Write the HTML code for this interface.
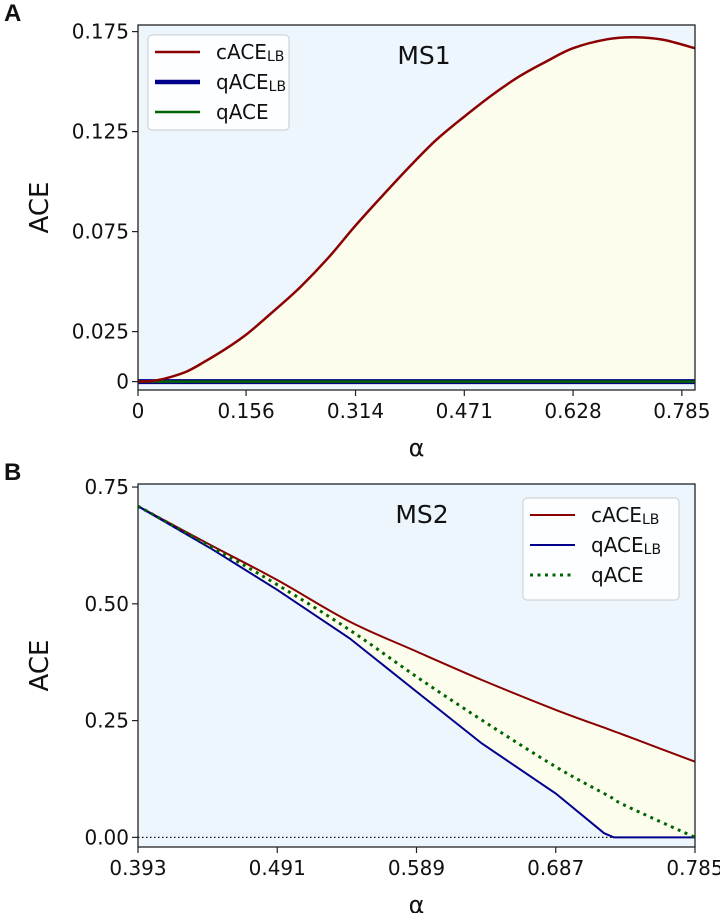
<!DOCTYPE html>
<html><head><meta charset="utf-8"><style>
html,body{margin:0;padding:0;background:#fff}
svg{display:block;font-family:"DejaVu Sans","Liberation Sans",sans-serif}
</style></head><body>
<svg id="chart" width="720" height="913" viewBox="0 0 720 913"></svg>
<script>
// Panel A data
const alphaA = [0, 0.020, 0.041, 0.070, 0.094, 0.125, 0.158, 0.195, 0.235, 0.275, 0.314, 0.353, 0.392, 0.431, 0.471, 0.510, 0.550, 0.589, 0.628, 0.678, 0.716, 0.757, 0.804];
const cAceA = [0, 0.0003, 0.0017, 0.005, 0.0095, 0.016, 0.024, 0.035, 0.0475, 0.062, 0.078, 0.093, 0.1075, 0.121, 0.1325, 0.143, 0.1525, 0.160, 0.1667, 0.1712, 0.1722, 0.171, 0.1667];
const qAceLbA = [0, 0];
const qAceA = [0, 0];
const qAlphaA = [0, 0.804];
const xTicksA = [0, 0.156, 0.314, 0.471, 0.628, 0.785];
const xTickLabelsA = ["0", "0.156", "0.314", "0.471", "0.628", "0.785"];
const yTicksA = [0, 0.025, 0.075, 0.125, 0.175];
const yTickLabelsA = ["0", "0.025", "0.075", "0.125", "0.175"];
// Panel B data
const alphaB = [0.393, 0.444, 0.491, 0.542, 0.589, 0.635, 0.687, 0.721, 0.728, 0.736, 0.785];
const cAceB = [0.709, 0.626, 0.551, 0.462, 0.398, 0.337, 0.273, 0.235, 0.227, 0.218, 0.162];
const qAceLbB = [0.709, 0.619, 0.530, 0.426, 0.312, 0.201, 0.094, 0.009, 0, 0, 0];
const qAceB = [0.709, 0.623, 0.541, 0.444, 0.344, 0.251, 0.151, 0.094, 0.082, 0.068, 0];
const xTicksB = [0.393, 0.491, 0.589, 0.687, 0.785];
const xTickLabelsB = ["0.393", "0.491", "0.589", "0.687", "0.785"];
const yTicksB = [0, 0.25, 0.5, 0.75];
const yTickLabelsB = ["0.00", "0.25", "0.50", "0.75"];

const NS = "http://www.w3.org/2000/svg";
const svg = document.getElementById("chart");
function mk(tag, attrs, parent, text) {
  const e = document.createElementNS(NS, tag);
  for (const k in attrs) e.setAttribute(k, attrs[k]);
  if (text !== undefined) e.textContent = text;
  (parent || svg).appendChild(e);
  return e;
}
const RED = "#8b0000", BLUE = "#00008b", GREEN = "#006400";

function panel(cfg) {
  const g = mk("g", {});
  
  
  const X = v => cfg.x0 + (v - cfg.xmin) / (cfg.xmax - cfg.xmin) * (cfg.x1 - cfg.x0);
  const Y = v => cfg.y0 - (v - cfg.ymin) / (cfg.ymax - cfg.ymin) * (cfg.y0 - cfg.y1);
  const bg = mk("rect", {x: cfg.x0, y: cfg.y1, width: cfg.x1 - cfg.x0, height: cfg.y0 - cfg.y1, fill: "#edf5fd"}, g);
  
  
  return {g, X, Y};
}
function P(xs, ys, X, Y) { return xs.map((x, i) => [X(x), Y(ys[i])]); }
// smooth Catmull-Rom path through points
function smooth(p, start) {
  let d = (start ? "M" : "L") + p[0][0].toFixed(1) + "," + p[0][1].toFixed(1);
  for (let i = 0; i < p.length - 1; i++) {
    const p0 = p[Math.max(0, i - 1)], p1 = p[i], p2 = p[i + 1], p3 = p[Math.min(p.length - 1, i + 2)];
    const c1 = [p1[0] + (p2[0] - p0[0]) / 6, p1[1] + (p2[1] - p0[1]) / 6];
    const c2 = [p2[0] - (p3[0] - p1[0]) / 6, p2[1] - (p3[1] - p1[1]) / 6];
    d += "C" + c1.map(v => v.toFixed(1)).join(",") + " " + c2.map(v => v.toFixed(1)).join(",") + " " + p2[0].toFixed(1) + "," + p2[1].toFixed(1);
  }
  return d;
}
function lin(p, start) { return p.map((q, i) => (i === 0 && start ? "M" : "L") + q[0].toFixed(1) + "," + q[1].toFixed(1)).join(""); }

function axes(p, cfg, xt, xl, yt, yl) {
  const {g, X, Y} = p;
  const fr = mk("rect", {x: cfg.x0, y: cfg.y1, width: cfg.x1 - cfg.x0, height: cfg.y0 - cfg.y1, fill: "none", stroke: "#222", "stroke-width": 1.3}, g);
  
  
  xt.forEach((v, i) => {
    mk("line", {x1: X(v), x2: X(v), y1: cfg.y0, y2: cfg.y0 + 6, stroke: "#222", "stroke-width": 1.2}, g);
    const t = mk("text", {x: X(v), y: cfg.y0 + 28, "text-anchor": "middle", "font-size": 20, fill: "#111"}, g, xl[i]);
    
    
  });
  yt.forEach((v, i) => {
    mk("line", {x1: cfg.x0 - 6, x2: cfg.x0, y1: Y(v), y2: Y(v), stroke: "#222", "stroke-width": 1.2}, g);
    const t = mk("text", {x: cfg.x0 - 9, y: Y(v) + 7, "text-anchor": "end", "font-size": 20, fill: "#111"}, g, yl[i]);
    
    
  });
  const xa = mk("text", {x: (cfg.x0 + cfg.x1) / 2, y: cfg.y0 + 66, "text-anchor": "middle", "font-size": 24, fill: "#111"}, g, "α");
  
  
  const cy = (cfg.y0 + cfg.y1) / 2;
  const ya = mk("text", {x: 48, y: cy, "text-anchor": "middle", "font-size": 26, fill: "#111", transform: "rotate(-90 48 " + cy + ")"}, g, "ACE");
  
  
  const pl = mk("text", {x: 4, y: cfg.y1 - 4, "font-size": 24, "font-weight": "bold", fill: "#111", "font-family": "Liberation Sans, sans-serif"}, g, cfg.label);
  
  
  const tt = mk("text", {x: cfg.titleX, y: cfg.y1 + 39, "text-anchor": "middle", "font-size": 25, fill: "#111"}, g, cfg.title);
  
  
}
function legend(g, bx, by, bw, bh, rows, styles) {
  const lg = mk("g", {}, g);
  
  
  mk("rect", {x: bx, y: by, width: bw, height: bh, rx: 4, fill: "#fff", "fill-opacity": 0.85, stroke: "#ccc"}, lg);
  rows.forEach((r, i) => {
    const e = mk("g", {}, lg);
    
    
    const yy = by + 17 + i * 30;
    const s = styles[i];
    mk("line", Object.assign({x1: bx + 7, x2: bx + 52, y1: yy, y2: yy, fill: "none"}, s), e);
    const t = mk("text", {x: bx + 68, y: yy + 7, "font-size": 20, fill: "#111"}, e, r[0]);
    if (r[1]) mk("tspan", {"font-size": 14, dy: 2}, t, r[1]);
  });
}

// Panel A
const cfgA = {name: "panel-a", x0: 138, x1: 695, y0: 390, y1: 25, xmin: 0, xmax: 0.804, ymin: -0.0042, ymax: 0.1783, label: "A", title: "MS1", titleX: 424};
const pA = panel(cfgA);
{
  const {g, X, Y} = pA;
  const cp = P(alphaA, cAceA, X, Y);
  const fill = mk("path", {d: smooth(cp, true) + "L" + X(alphaA[alphaA.length - 1]) + "," + Y(0) + "L" + X(0) + "," + Y(0) + "Z", fill: "#fdfdee"}, g);
  
  
  mk("rect", {x: 138, y: Y(0.0012), width: 557, height: Y(-0.0012) - Y(0.0012), fill: "#c8cdf5"}, g);
  const lb = mk("path", {d: lin(P(qAlphaA, qAceLbA, X, Y), true), fill: "none", stroke: BLUE, "stroke-width": 5}, g);
  
  
  const q = mk("path", {d: lin(P(qAlphaA, qAceA, X, Y), true), fill: "none", stroke: GREEN, "stroke-width": 2.5}, g);
  
  
  const c = mk("path", {d: smooth(cp, true), fill: "none", stroke: RED, "stroke-width": 2.5}, g);
  
  
  axes(pA, cfgA, xTicksA, xTickLabelsA, yTicksA, yTickLabelsA);
  legend(g, 148, 35, 141, 95, [["cACE", "LB"], ["qACE", "LB"], ["qACE", ""]],
    [{stroke: RED, "stroke-width": 2.5}, {stroke: BLUE, "stroke-width": 4.5}, {stroke: GREEN, "stroke-width": 2.5}]);
}

// Panel B
const cfgB = {name: "panel-b", x0: 138, x1: 695, y0: 847, y1: 484, xmin: 0.393, xmax: 0.785, ymin: -0.0206, ymax: 0.7565, label: "B", title: "MS2", titleX: 422};
const pB = panel(cfgB);
{
  const {g, X, Y} = pB;
  const cp = P(alphaB, cAceB, X, Y);
  const lp = P(alphaB, qAceLbB, X, Y);
  const fill = mk("path", {d: smooth(cp, true) + lin(lp.slice().reverse(), false) + "Z", fill: "#fdfdee"}, g);
  
  
  const z = mk("line", {x1: 138, x2: 695, y1: Y(0), y2: Y(0), stroke: "#111", "stroke-width": 1.2, "stroke-dasharray": "1.5,2.5"}, g);
  
  
  const c = mk("path", {d: smooth(cp, true), fill: "none", stroke: RED, "stroke-width": 2}, g);
  
  
  const lb = mk("path", {d: lin(lp, true), fill: "none", stroke: BLUE, "stroke-width": 2}, g);
  
  
  const q = mk("path", {d: smooth(P(alphaB, qAceB, X, Y), true), fill: "none", stroke: GREEN, "stroke-width": 3, "stroke-dasharray": "3,4.5"}, g);
  
  
  axes(pB, cfgB, xTicksB, xTickLabelsB, yTicksB, yTickLabelsB);
  legend(g, 523, 498, 156, 102, [["cACE", "LB"], ["qACE", "LB"], ["qACE", ""]],
    [{stroke: RED, "stroke-width": 2}, {stroke: BLUE, "stroke-width": 2}, {stroke: GREEN, "stroke-width": 3, "stroke-dasharray": "3,4.5"}]);
}
</script>
</body></html>
